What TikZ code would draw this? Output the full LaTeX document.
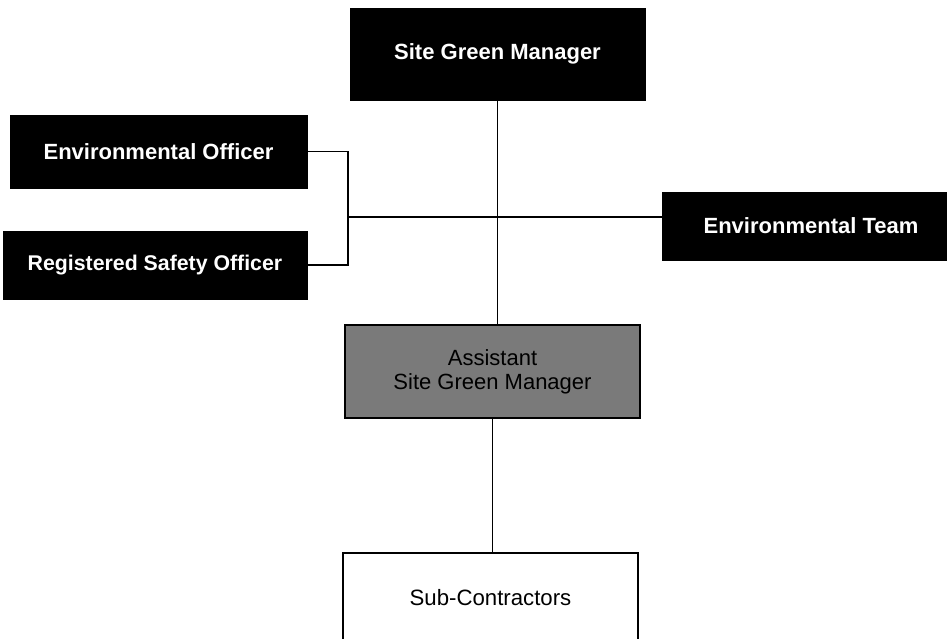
\documentclass[tikz,border=0pt]{standalone}
\usepackage{fontspec}
\setmainfont{Liberation Sans}
\begin{document}
\begin{tikzpicture}[x=1pt,y=-1pt,
  darkbox/.style={draw=black,fill=black,text=white,font=\fontsize{22}{25}\selectfont\bfseries,inner sep=0pt,align=center},
  graybox/.style={draw=black,line width=1.5pt,fill=black!52,text=black,font=\fontsize{22}{24}\selectfont,inner sep=0pt,align=center},
  whitebox/.style={draw=black,line width=1.5pt,fill=white,text=black,font=\fontsize{22.2}{25}\selectfont,inner sep=0pt,align=center},
  link/.style={draw=black,line width=1.3pt}]
\useasboundingbox (0,0) rectangle (947,638);
\clip (0,0) rectangle (947,638);
\node[darkbox,minimum width=295pt,minimum height=92pt] (sgm) at (497.5,54) {Site Green Manager};
\node[darkbox,minimum width=297pt,minimum height=73pt] (eo) at (158.5,151.5) {Environmental Officer};
\node[darkbox,font=\fontsize{21.3}{25}\selectfont\bfseries,minimum width=304pt,minimum height=68pt] (rso) at (155,265) {Registered Safety Officer};
\node[darkbox,minimum width=298pt,minimum height=68pt] (et) at (811,226) {Environmental Team};
\node[graybox,minimum width=295pt,minimum height=93pt] (asgm) at (492.5,371.5) {Assistant\\Site Green Manager};
\node[whitebox,minimum width=295pt,minimum height=90pt] (sc) at (490.5,598) {Sub-Contractors};
\coordinate (j) at (348,217);
\draw[link] (sgm.south) -- (sgm.south |- asgm.north);
\draw[link] (asgm.south) -- (asgm.south |- sc.north);
\draw[link] (eo.east) -| (j) |- (rso.east);
\draw[link] (j) -- (j -| et.west);
\end{tikzpicture}
\end{document}
